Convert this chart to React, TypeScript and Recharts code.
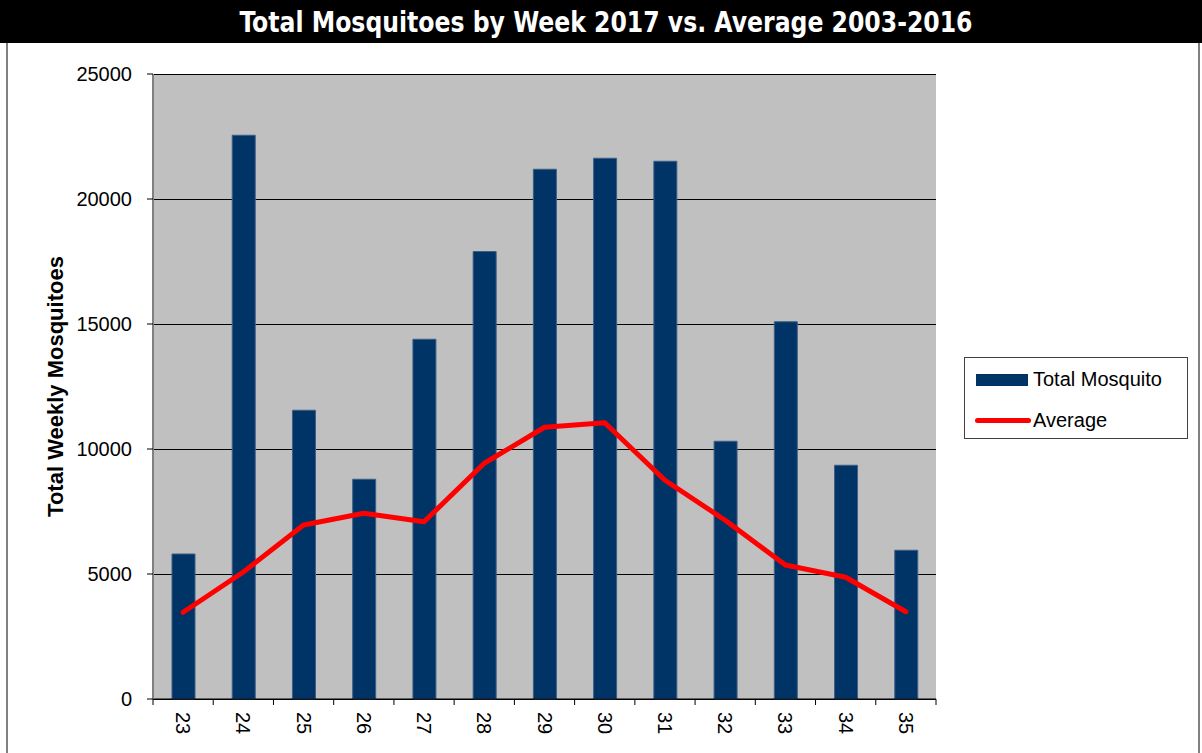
import { ComposedChart, Bar, Line, XAxis, YAxis, CartesianGrid } from 'recharts'

const weeks = ['23', '24', '25', '26', '27', '28', '29', '30', '31', '32', '33', '34', '35']
const totalMosquito = [5800, 22550, 11550, 8790, 14390, 17900, 21190, 21630, 21510, 10310, 15090, 9350, 5950]
const averageMosquito = [3470, 5080, 6960, 7430, 7090, 9430, 10870, 11050, 8750, 7150, 5360, 4870, 3490]
const yTicks = [0, 5000, 10000, 15000, 20000, 25000]

const FONT = '"Liberation Sans", Arial, sans-serif'
const PLOT_WIDTH = 783

const data = weeks.map((week, i) => ({
  week,
  total: totalMosquito[i],
  average: averageMosquito[i],
}))

// Excel style category axis: tick marks sit between the categories
function WeekTick(props: any) {
  const { x, y, payload, index, visibleTicksCount } = props
  const count = visibleTicksCount || weeks.length
  const band = (Number(props.width) || PLOT_WIDTH) / count
  const left = x - band / 2
  const ty = y + 13
  return (
    <g>
      <line x1={left} x2={left} y1={y} y2={y + 6} stroke="#000" strokeWidth={1} />
      {index === count - 1 && (
        <line x1={x + band / 2} x2={x + band / 2} y1={y} y2={y + 6} stroke="#000" strokeWidth={1} />
      )}
      <text
        x={x}
        y={ty}
        dy="0.35em"
        textAnchor="start"
        transform={`rotate(90, ${x}, ${ty})`}
        fontSize={20}
        fontFamily={FONT}
        fill="#000"
      >
        {payload.value}
      </text>
    </g>
  )
}

function App() {
  return (
    <div style={{ position: 'absolute', left: 0, top: 0, width: 1202, height: 753, fontFamily: FONT, background: '#fff' }}>
      <style>{'body{margin:0}'}</style>
      <svg width={1202} height={43} style={{ display: 'block' }}>
        <rect x={0} y={0} width={1202} height={43} fill="#000" />
        <text
          x={606}
          y={32}
          textAnchor="middle"
          fill="#fff"
          fontWeight="bold"
          fontSize={28}
          fontFamily='"Liberation Sans Narrow", "DejaVu Sans Condensed", Arial, sans-serif'
          textLength={733}
          lengthAdjust="spacingAndGlyphs"
        >
          Total Mosquitoes by Week 2017 vs. Average 2003-2016
        </text>
      </svg>
      <div style={{ position: 'absolute', left: 6, top: 43, width: 2, height: 710, background: '#808080' }} />
      <div style={{ position: 'absolute', left: 1198, top: 43, width: 2, height: 710, background: '#808080' }} />

      <ComposedChart
        width={1202}
        height={710}
        data={data}
        margin={{ top: 31, right: 266, bottom: 0, left: 0 }}
        barCategoryGap={0}
      >
        <CartesianGrid
          vertical={false}
          stroke="#000"
          strokeOpacity={1}
          fill="#C0C0C0"
          fillOpacity={1}
          shapeRendering="crispEdges"
        />
        <XAxis
          dataKey="week"
          height={54}
          tickLine={false}
          tickSize={0}
          tickMargin={0}
          interval={0}
          stroke="#000"
          tick={<WeekTick />}
        />
        <YAxis
          width={153}
          domain={[0, 25000]}
          ticks={yTicks}
          interval={0}
          tickSize={6}
          tickMargin={15}
          stroke="#808080"
          strokeWidth={2}
          tickLine={{ stroke: '#000', strokeWidth: 1 }}
          tick={{ fill: '#000', fontSize: 20, fontFamily: FONT }}
          label={{
            value: 'Total Weekly Mosquitoes',
            angle: -90,
            position: 'insideLeft',
            offset: 55,
            style: { textAnchor: 'middle', fontWeight: 'bold', fontSize: 22, fill: '#000', fontFamily: FONT },
          }}
        />
        <Bar dataKey="total" name="Total Mosquito" fill="#003366" stroke="#3d5f87" strokeWidth={1} barSize={23} isAnimationActive={false} />
        <Line
          dataKey="average"
          name="Average"
          type="linear"
          stroke="#FF0000"
          strokeWidth={5}
          strokeLinecap="round"
          strokeLinejoin="round"
          dot={false}
          activeDot={false}
          isAnimationActive={false}
        />
      </ComposedChart>

      <div
        style={{
          position: 'absolute',
          left: 964,
          top: 357,
          width: 222,
          height: 80,
          border: '1px solid #404040',
          fontSize: 20,
          color: '#000',
        }}
      >
        <div style={{ position: 'absolute', left: 11, top: 16, width: 52, height: 12, background: '#003366' }} />
        <div style={{ position: 'absolute', left: 68, top: 9, lineHeight: '24px', whiteSpace: 'nowrap' }}>Total Mosquito</div>
        <div style={{ position: 'absolute', left: 10, top: 60, width: 56, height: 5, borderRadius: 3, background: '#FF0000' }} />
        <div style={{ position: 'absolute', left: 68, top: 50, lineHeight: '24px', whiteSpace: 'nowrap' }}>Average</div>
      </div>
    </div>
  )
}

export default App
